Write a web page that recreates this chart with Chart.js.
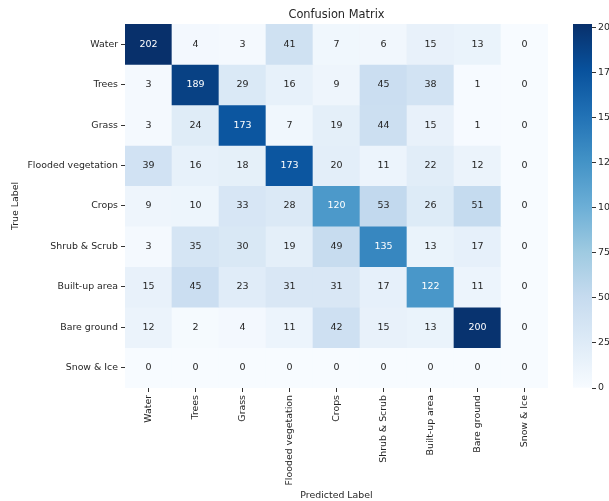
<!DOCTYPE html>
<html lang="en">
<head>
    <meta charset="UTF-8">
    <title>Confusion Matrix</title>
    <script src="https://cdn.jsdelivr.net/npm/chart.js"></script>
    <style>
        html, body {
            margin: 0;
            padding: 0;
            background: #fff;
            overflow: hidden;
        }
        #matrixChart {
            position: absolute;
            left: 0;
            top: 0;
        }
        #colorbarChart {
            position: absolute;
            left: 560px;
            top: 0;
        }
    </style>
</head>
<body>
    <canvas id="matrixChart" width="609" height="501"></canvas>
    <canvas id="colorbarChart" width="49" height="501"></canvas>

    <script>
        // Class names, shared by both axes
        const classLabels = ['Water', 'Trees', 'Grass', 'Flooded vegetation', 'Crops',
                             'Shrub & Scrub', 'Built-up area', 'Bare ground', 'Snow & Ice'];

        // One row per true class, columns are predicted classes
        const waterRow     = [202, 4, 3, 41, 7, 6, 15, 13, 0];
        const treesRow     = [3, 189, 29, 16, 9, 45, 38, 1, 0];
        const grassRow     = [3, 24, 173, 7, 19, 44, 15, 1, 0];
        const floodedRow   = [39, 16, 18, 173, 20, 11, 22, 12, 0];
        const cropsRow     = [9, 10, 33, 28, 120, 53, 26, 51, 0];
        const shrubRow     = [3, 35, 30, 19, 49, 135, 13, 17, 0];
        const builtUpRow   = [15, 45, 23, 31, 31, 17, 122, 11, 0];
        const bareRow      = [12, 2, 4, 11, 42, 15, 13, 200, 0];
        const snowRow      = [0, 0, 0, 0, 0, 0, 0, 0, 0];

        const colorbarTicks = [0, 25, 50, 75, 100, 125, 150, 175, 200];

        const matrix = [waterRow, treesRow, grassRow, floodedRow, cropsRow,
                        shrubRow, builtUpRow, bareRow, snowRow];
        const vmax = Math.max(...matrix.flat());

        // matplotlib "Blues" colormap stops
        const blues = [
            [247, 251, 255], [222, 235, 247], [198, 219, 239], [158, 202, 225],
            [107, 174, 214], [66, 146, 198], [33, 113, 181], [8, 81, 156], [8, 48, 107]
        ];

        function bluesRgb(t) {
            t = Math.min(1, Math.max(0, t));
            const pos = t * (blues.length - 1);
            const i = Math.min(blues.length - 2, Math.floor(pos));
            const f = pos - i;
            return blues[i].map((c, k) => Math.round(c + (blues[i + 1][k] - c) * f));
        }

        function bluesColor(t) {
            const c = bluesRgb(t);
            return `rgb(${c[0]}, ${c[1]}, ${c[2]})`;
        }

        // same rule seaborn uses to pick light or dark annotation text
        function textColorFor(value) {
            const lin = bluesRgb(value / vmax).map(c => {
                c /= 255;
                return c <= 0.03928 ? c / 12.92 : Math.pow((c + 0.055) / 1.055, 2.4);
            });
            const lum = 0.2126 * lin[0] + 0.7152 * lin[1] + 0.0722 * lin[2];
            return lum > 0.408 ? '#262626' : '#ffffff';
        }

        const fontFamily = "'DejaVu Sans', sans-serif";
        const textColor = '#262626';

        // each true-class row becomes a floating bar dataset spanning [row, row + 1]
        const datasets = matrix.map((row, r) => ({
            label: classLabels[r],
            data: row.map(() => [r, r + 1]),
            backgroundColor: row.map(v => bluesColor(v / vmax)),
            borderWidth: 0,
            barPercentage: 1,
            categoryPercentage: 1,
            grouped: false
        }));

        const cellLabels = {
            id: 'cellLabels',
            afterDatasetsDraw(chart) {
                const { ctx, scales: { x, y } } = chart;
                ctx.save();
                ctx.font = `9.5px ${fontFamily}`;
                ctx.textAlign = 'center';
                ctx.textBaseline = 'middle';
                matrix.forEach((row, r) => {
                    row.forEach((v, c) => {
                        ctx.fillStyle = textColorFor(v);
                        ctx.fillText(String(v), x.getPixelForValue(c), y.getPixelForValue(r + 0.5));
                    });
                });
                ctx.restore();
            }
        };

        Chart.defaults.font.family = fontFamily;
        Chart.defaults.color = textColor;

        new Chart(document.getElementById('matrixChart'), {
            type: 'bar',
            data: {
                labels: classLabels,
                datasets: datasets
            },
            options: {
                responsive: false,
                animation: false,
                layout: {
                    padding: { left: 0, right: 61, top: 0, bottom: 0 }
                },
                plugins: {
                    legend: { display: false },
                    tooltip: { enabled: false },
                    title: {
                        display: true,
                        text: 'Confusion Matrix',
                        fullSize: false,
                        color: textColor,
                        font: { size: 11.4, weight: 'normal' },
                        padding: { top: 8, bottom: 2.3 }
                    }
                },
                scales: {
                    x: {
                        type: 'category',
                        offset: true,
                        grid: {
                            offset: false,
                            drawOnChartArea: false,
                            drawTicks: true,
                            tickLength: 4,
                            color: '#333'
                        },
                        border: { display: false },
                        ticks: {
                            autoSkip: false,
                            minRotation: 90,
                            maxRotation: 90,
                            padding: 3,
                            color: textColor,
                            font: { size: 9.4 }
                        },
                        title: {
                            display: true,
                            text: 'Predicted Label',
                            color: textColor,
                            font: { size: 9.4 },
                            padding: { top: 0, bottom: 0 }
                        },
                        afterFit(scale) {
                            scale.height = 113;
                        }
                    },
                    y: {
                        type: 'linear',
                        min: 0,
                        max: matrix.length,
                        reverse: true,
                        afterBuildTicks(scale) {
                            scale.ticks = classLabels.map((_, i) => ({ value: i + 0.5 }));
                        },
                        grid: {
                            drawOnChartArea: false,
                            drawTicks: true,
                            tickLength: 4,
                            color: '#333'
                        },
                        border: { display: false },
                        ticks: {
                            autoSkip: false,
                            padding: 3,
                            color: textColor,
                            font: { size: 9.4 },
                            callback: value => classLabels[Math.floor(value)]
                        },
                        title: {
                            display: true,
                            text: 'True Label',
                            color: textColor,
                            font: { size: 9.4 },
                            padding: { top: 10, bottom: 0 }
                        },
                        afterFit(scale) {
                            scale.width = 125;
                        }
                    }
                }
            },
            plugins: [cellLabels]
        });

        // colour bar: one bar from 0 to the max count, filled with the colormap
        new Chart(document.getElementById('colorbarChart'), {
            type: 'bar',
            data: {
                labels: [''],
                datasets: [{
                    data: [[0, vmax]],
                    backgroundColor(context) {
                        const area = context.chart.chartArea;
                        if (!area) return bluesColor(0.5);
                        const g = context.chart.ctx.createLinearGradient(0, area.bottom, 0, area.top);
                        blues.forEach((_, i) => g.addColorStop(i / (blues.length - 1), bluesColor(i / (blues.length - 1))));
                        return g;
                    },
                    borderWidth: 0,
                    barPercentage: 1,
                    categoryPercentage: 1
                }]
            },
            options: {
                responsive: false,
                animation: false,
                layout: {
                    padding: { left: 13, right: 0, top: 24, bottom: 113 }
                },
                plugins: {
                    legend: { display: false },
                    tooltip: { enabled: false }
                },
                scales: {
                    x: { display: false },
                    y: {
                        position: 'right',
                        min: 0,
                        max: vmax,
                        afterBuildTicks(scale) {
                            scale.ticks = colorbarTicks.map(v => ({ value: v }));
                        },
                        grid: {
                            drawOnChartArea: false,
                            drawTicks: true,
                            tickLength: 4,
                            color: '#333'
                        },
                        border: { display: false },
                        ticks: {
                            padding: 2,
                            color: textColor,
                            font: { size: 9.4 }
                        },
                        afterFit(scale) {
                            scale.width = 17;
                        }
                    }
                }
            }
        });
    </script>
</body>
</html>
